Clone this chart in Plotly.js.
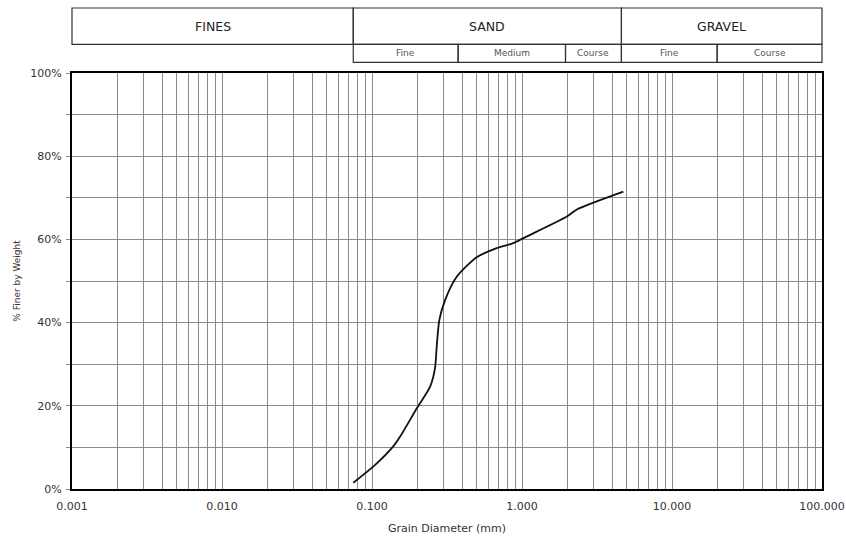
<!DOCTYPE html>
<html>
<head>
<meta charset="utf-8">
<script src="https://cdn.plot.ly/plotly-3.0.1.min.js"></script>
<style>html,body{margin:0;padding:0;background:#fff;}#chart{width:846px;height:541px;}</style>
</head>
<body>
<div id="chart"></div>
<script>
// Grain size distribution
var grainSize = [0.075, 0.105, 0.139, 0.154, 0.199, 0.244, 0.263, 0.270, 0.281, 0.307, 0.367, 0.499, 0.678, 0.875, 1.02, 1.99, 2.32, 4.74];
var percentFiner = [1.5, 5.8, 10.3, 12.6, 19.4, 24.6, 29.0, 34.2, 40.6, 45.4, 51.0, 55.7, 57.9, 59.1, 60.3, 65.5, 67.2, 71.5];

// x tick labels
var xTickVals = [0.001, 0.01, 0.1, 1, 10, 100];
var xTickText = ["0.001", "0.010", "0.100", "1.000", "10.000", "100.000"];

// Header classification (boundaries in mm)
var mainClasses = ["FINES", "SAND", "GRAVEL"];
var mainBounds = [0.001, 0.075, 4.6, 100];
var subClasses = ["Fine", "Medium", "Course", "Fine", "Course"];
var subBounds = [0.075, 0.375, 1.95, 4.6, 20, 100];

var LOGMIN = -3, LOGMAX = 2;
function px(d) { return (Math.log10(d) - LOGMIN) / (LOGMAX - LOGMIN); }

// minor grid values 2..9 in each decade
var minorVals = [];
for (var e = LOGMIN; e < LOGMAX; e++) {
  for (var k = 2; k <= 9; k++) minorVals.push(k * Math.pow(10, e));
}

var rowTop = 1.1563, rowMid = 1.069, rowBot = 1.0257;
var lineStyle = {color: '#333', width: 1.2};
var shapes = [];
var annotations = [];

// main row boxes
for (var i = 0; i < mainClasses.length; i++) {
  shapes.push({type: 'rect', xref: 'paper', yref: 'paper',
    x0: px(mainBounds[i]), x1: px(mainBounds[i + 1]), y0: rowMid, y1: rowTop,
    line: lineStyle, fillcolor: 'rgba(0,0,0,0)'});
  annotations.push({xref: 'paper', yref: 'paper', x: (px(mainBounds[i]) + px(mainBounds[i + 1])) / 2,
    y: (rowMid + rowTop) / 2, text: mainClasses[i], showarrow: false,
    xanchor: 'center', yanchor: 'middle',
    font: {family: 'DejaVu Sans, Arial, sans-serif', size: 12.5, color: '#222'}});
}
// sub row boxes
for (var j = 0; j < subClasses.length; j++) {
  shapes.push({type: 'rect', xref: 'paper', yref: 'paper',
    x0: px(subBounds[j]), x1: px(subBounds[j + 1]), y0: rowBot, y1: rowMid,
    line: lineStyle, fillcolor: 'rgba(0,0,0,0)'});
  annotations.push({xref: 'paper', yref: 'paper', x: (px(subBounds[j]) + px(subBounds[j + 1])) / 2,
    y: (rowBot + rowMid) / 2, text: subClasses[j], showarrow: false,
    xanchor: 'center', yanchor: 'middle',
    font: {family: 'DejaVu Sans, Arial, sans-serif', size: 9, color: '#555'}});
}

var trace = {
  x: grainSize, y: percentFiner, type: 'scatter', mode: 'lines',
  line: {color: '#111', width: 1.8, shape: 'spline', smoothing: 0.7},
  hoverinfo: 'x+y'
};

var gridColor = '#8a8a8a';
var layout = {
  width: 846, height: 541,
  margin: {l: 72, r: 24, t: 73, b: 52},
  paper_bgcolor: '#fff', plot_bgcolor: '#fff',
  showlegend: false,
  font: {family: 'DejaVu Sans, Arial, sans-serif', size: 11, color: '#333'},
  xaxis: {
    type: 'log', range: [LOGMIN, LOGMAX],
    tickmode: 'array', tickvals: xTickVals, ticktext: xTickText,
    showgrid: true, gridcolor: gridColor, gridwidth: 1,
    ticks: '', ticklabelstandoff: 6,
    showline: true, linecolor: '#000', linewidth: 2, mirror: true,
    zeroline: false,
    minor: {tickmode: 'array', tickvals: minorVals, showgrid: true, gridcolor: gridColor, gridwidth: 1, ticks: ''},
    tickfont: {size: 11, color: '#333'},
    title: {text: 'Grain Diameter (mm)', font: {size: 11, color: '#333'}, standoff: 12}
  },
  yaxis: {
    range: [0, 100], tickmode: 'linear', tick0: 0, dtick: 20, ticksuffix: '%',
    showgrid: true, gridcolor: gridColor, gridwidth: 1,
    ticks: 'outside', ticklen: 4, tickcolor: '#888', tickwidth: 1, ticklabelstandoff: 2,
    showline: true, linecolor: '#000', linewidth: 2, mirror: true,
    zeroline: false,
    minor: {dtick: 10, showgrid: true, gridcolor: gridColor, gridwidth: 1, ticks: 'outside', ticklen: 4, tickcolor: '#888'},
    tickfont: {size: 11, color: '#333'},
    title: {text: '% Finer by Weight', font: {size: 9, color: '#333'}, standoff: 8}
  },
  shapes: shapes,
  annotations: annotations
};

Plotly.newPlot('chart', [trace], layout, {displayModeBar: false, staticPlot: true});
</script>
</body>
</html>
